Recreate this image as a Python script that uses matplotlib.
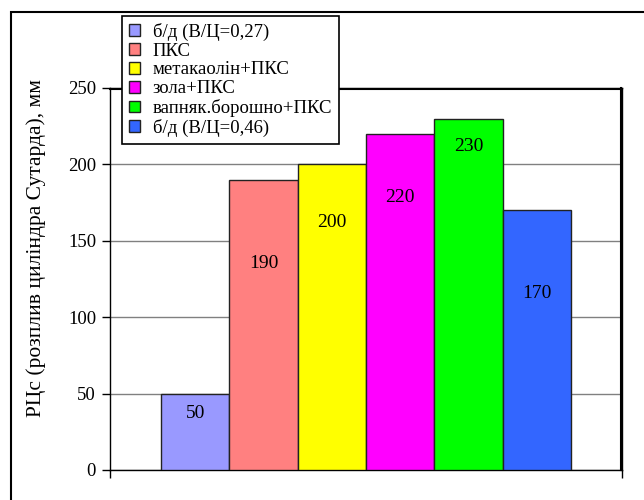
import matplotlib.pyplot as plt
import matplotlib.patches as mpatches

# розплив за циліндром Сутарда для різних складів
labels = ['б/д (В/Ц=0,27)', 'ПКС', 'метакаолін+ПКС', 'зола+ПКС',
          'вапняк.борошно+ПКС', 'б/д (В/Ц=0,46)']
values = [50, 190, 200, 220, 230, 170]
colors = ['#9999FF', '#FF8080', '#FFFF00', '#FF00FF', '#00FF00', '#3366FF']
yticks = [0, 50, 100, 150, 200, 250]

# де стоять підписи всередині стовпчиків (частка висоти)
label_pos = [0.74, 0.71, 0.81, 0.81, 0.92, 0.68]

plt.rcParams['font.family'] = ['Liberation Serif', 'DejaVu Serif']

fig = plt.figure(figsize=(6.44, 5.0), dpi=100)
ax = fig.add_axes([110/644, 30/500, 512/644, 382/500])

xs = list(range(len(values)))
for i in xs:
    ax.bar(xs[i], values[i], width=1.0, color=colors[i], edgecolor='#222222',
           linewidth=1.0, label=labels[i], zorder=3)
    ax.text(xs[i], values[i]*label_pos[i], str(values[i]), ha='center',
            va='center', fontsize=14, zorder=4)

x0, x1 = -1.25, len(values) + 0.25
ax.set_xlim(x0, x1)
ax.set_ylim(0, 250)
ax.set_yticks(yticks)
ax.set_yticklabels([str(v) for v in yticks], fontsize=13.5)
ax.set_xticks([x0, x1])
ax.set_xticklabels(['', ''])
ax.tick_params(axis='both', direction='out', length=6, width=1, color='black')
ax.tick_params(axis='y', pad=4)
ax.yaxis.grid(True, color='#808080', linewidth=1, zorder=0)
for s in ax.spines.values():
    s.set_color('black')
    s.set_linewidth(1)

# верхня та права межі області побудови
ax.plot([x0, x1], [249.5, 249.5], color='black', linewidth=1.5, clip_on=False, zorder=6)
ax.plot([x1 - 0.01, x1 - 0.01], [0, 250], color='black', linewidth=1.5, clip_on=False, zorder=6)

ax.set_ylabel('РЦс (розплив циліндра Сутарда), мм', fontsize=15.5)
ax.yaxis.set_label_coords(-0.125, 0.58)

leg = ax.legend(loc='upper left', bbox_to_anchor=(122/644, 1 - 16/500),
                bbox_transform=fig.transFigure, fontsize=13.5, frameon=True,
                fancybox=False, borderpad=0.35, labelspacing=0.1,
                handlelength=0.6, handleheight=0.6, handletextpad=0.7,
                borderaxespad=0)
leg.get_frame().set_edgecolor('black')
leg.get_frame().set_linewidth(1.2)
leg.get_frame().set_alpha(1)
leg.set_zorder(10)

# рамка навколо всієї діаграми
frame = mpatches.Rectangle((11/644, -0.05), 1.0, 1 - 12/500 + 0.05,
                           transform=fig.transFigure, fill=False,
                           edgecolor='black', linewidth=1.5, clip_on=False)
fig.patches.append(frame)

fig.savefig('out.png', dpi=100)
